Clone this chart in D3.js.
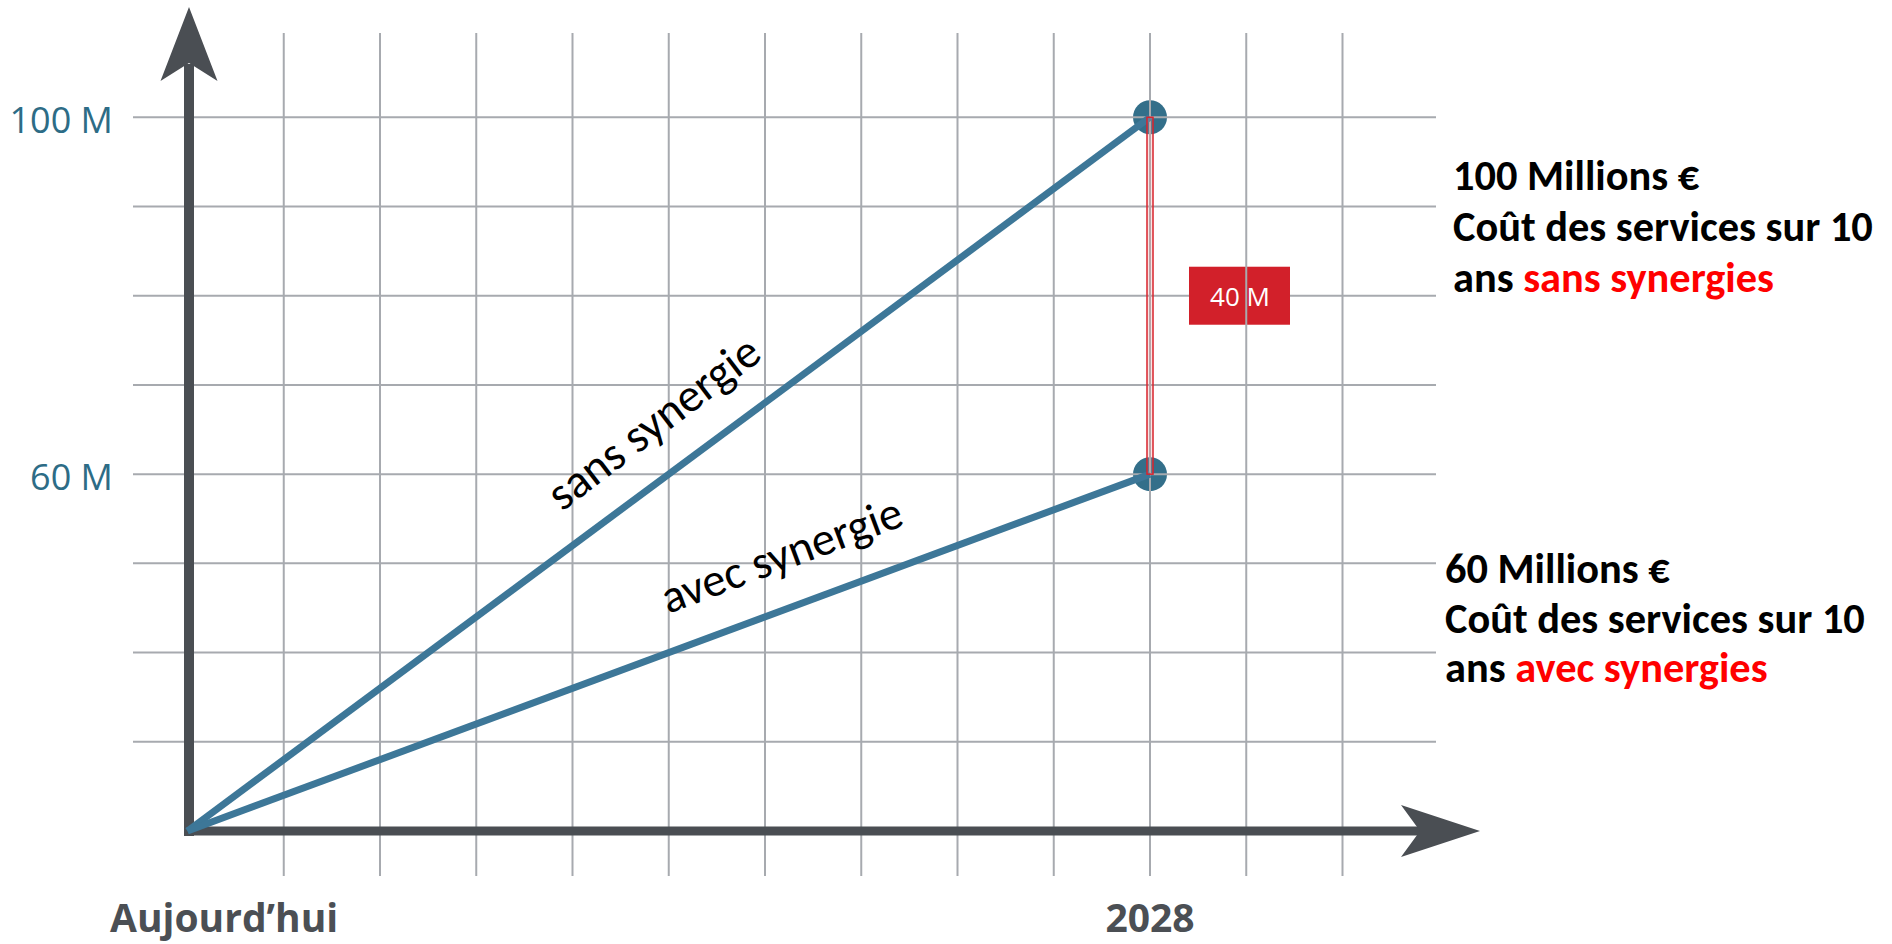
<!DOCTYPE html>
<html>
<head>
<meta charset="utf-8">
<script src="https://cdn.jsdelivr.net/npm/d3@7"></script>
<style>
  html, body { margin: 0; padding: 0; background: #ffffff; }
  svg { display: block; }
</style>
</head>
<body>
<svg id="chart" width="1892" height="944"></svg>
<script>
// ---------------- DATA ----------------
const years = [2018, 2028];
const xTickLabels = ["Aujourd’hui", "2028"];
const sansSynergie = [20, 100];   // cumulative cost (M€), starts at axis floor
const avecSynergie = [20, 60];
const seriesNames = ["sans synergie", "avec synergie"];
const gridYears = [2019, 2020, 2021, 2022, 2023, 2024, 2025, 2026, 2027, 2028, 2029, 2030];
const gridValues = [30, 40, 50, 60, 70, 80, 90, 100];
const yTickValues = [100, 60];
const yTickLabels = ["100 M", "60 M"];
const gapLabel = "40 M";
const noteSans = ["100 Millions €", "Coût des services sur 10", "ans ", "sans synergies"];
const noteAvec = ["60 Millions €", "Coût des services sur 10", "ans ", "avec synergies"];

// ---------------- SETUP ----------------
const svg = d3.select("#chart");
const x = d3.scaleLinear().domain([2018, 2028]).range([187.5, 1150]);
const y = d3.scaleLinear().domain([20, 100]).range([831, 117.3]);

const AXIS = "#4a4e53", GRID = "#a7aaaf", BLUE = "#3d7798", DOT = "#336f8a", RED = "#d2202a";

function fitFont(sel, target) {
  const w = sel.node().getComputedTextLength();
  const fs = parseFloat(sel.attr("font-size"));
  sel.attr("font-size", fs * target / w);
}

// dots (below grid)
const ends = [sansSynergie[1], avecSynergie[1]];
svg.append("g").selectAll("circle").data(ends).join("circle")
  .attr("cx", x(years[1])).attr("cy", d => y(d)).attr("r", 17).attr("fill", DOT);

// horizontal grid
svg.append("g").selectAll("line").data(gridValues).join("line")
  .attr("x1", 133).attr("x2", 1436)
  .attr("y1", d => y(d)).attr("y2", d => y(d))
  .attr("stroke", GRID).attr("stroke-width", 2);

// gap box
const boxCy = y((sansSynergie[1] + avecSynergie[1]) / 2);
svg.append("rect")
  .attr("x", x(years[1]) + 39).attr("y", boxCy - 29)
  .attr("width", 101).attr("height", 58).attr("fill", RED);
svg.append("text")
  .attr("x", x(years[1]) + 90).attr("y", boxCy + 10)
  .attr("text-anchor", "middle")
  .attr("font-family", "'Open Sans', sans-serif").attr("font-size", 26)
  .attr("fill", "#ffffff").text(gapLabel);

// vertical grid
svg.append("g").selectAll("line").data(gridYears).join("line")
  .attr("x1", d => x(d)).attr("x2", d => x(d))
  .attr("y1", 33).attr("y2", 876)
  .attr("stroke", GRID).attr("stroke-width", 2);

// axes with arrows
const x0 = x.range()[0] + 1.5, yb = y.range()[0];
const ax = svg.append("g");
ax.append("line").attr("x1", x0).attr("x2", x0).attr("y1", yb + 5).attr("y2", 64)
  .attr("stroke", AXIS).attr("stroke-width", 10);
ax.append("path").attr("d", `M${x0},7 L${x0 + 28.5},81 L${x0},63 L${x0 - 28.5},81 Z`).attr("fill", AXIS);
ax.append("line").attr("x1", x0 - 5).attr("x2", 1421).attr("y1", yb).attr("y2", yb)
  .attr("stroke", AXIS).attr("stroke-width", 9);
ax.append("path").attr("d", `M1480,${yb} L1401,${yb - 26} L1420,${yb} L1401,${yb + 26} Z`).attr("fill", AXIS);

// y tick labels
svg.append("g").selectAll("text").data(yTickValues).join("text")
  .attr("x", 113).attr("y", d => y(d) + 16)
  .attr("text-anchor", "end")
  .attr("font-family", "'Open Sans', sans-serif").attr("font-size", 36)
  .attr("fill", "#2d6c86")
  .text((d, i) => yTickLabels[i]);

// x labels
svg.append("g").selectAll("text").data(years).join("text")
  .attr("x", (d, i) => i === 0 ? 110 : x(d))
  .attr("y", 932)
  .attr("text-anchor", (d, i) => i === 0 ? "start" : "middle")
  .attr("font-family", "'Open Sans', sans-serif").attr("font-weight", 700).attr("font-size", 39)
  .attr("fill", "#4b4f54")
  .text((d, i) => xTickLabels[i]);

// series lines
const line = d3.line().x(d => x(d[0])).y(d => y(d[1]));
[sansSynergie, avecSynergie].forEach(s => {
  svg.append("path").datum(years.map((yr, i) => [yr, s[i]]))
    .attr("d", line).attr("fill", "none")
    .attr("stroke", BLUE).attr("stroke-width", 7).attr("stroke-linecap", "butt");
});

// red connector
svg.append("rect")
  .attr("x", x(years[1]) - 3).attr("y", y(sansSynergie[1]))
  .attr("width", 6).attr("height", y(avecSynergie[1]) - y(sansSynergie[1]))
  .attr("fill", "rgba(240,150,150,0.25)").attr("stroke", "#d9232d").attr("stroke-width", 1.5);

// rotated series labels
const angS = Math.atan2(y(sansSynergie[0]) - y(sansSynergie[1]), x(years[1]) - x(years[0])) * 180 / Math.PI;
const angA = Math.atan2(y(avecSynergie[0]) - y(avecSynergie[1]), x(years[1]) - x(years[0])) * 180 / Math.PI;
const lblPos = [[562, 512, angS + 0.8], [668, 614, angA + 0.2]];
seriesNames.forEach((n, i) => {
  const t = svg.append("text")
    .attr("transform", `translate(${lblPos[i][0]},${lblPos[i][1]}) rotate(${-lblPos[i][2]})`)
    .attr("font-family", "Carlito, Lato, sans-serif").attr("font-size", 40)
    .attr("fill", "#000").text(n);
  fitFont(t, 254);
});

// right annotations
function note(lines, x0, ys) {
  const g = svg.append("g").attr("font-family", "Carlito, Lato, sans-serif")
    .attr("font-weight", 700).attr("fill", "#000");
  const t1 = g.append("text").attr("x", x0).attr("y", ys[0]).attr("font-size", 40).text(lines[0]);
  const t2 = g.append("text").attr("x", x0).attr("y", ys[1]).attr("font-size", 40).text(lines[1]);
  fitFont(t2, 420);
  const fs = t2.attr("font-size");
  t1.attr("font-size", fs);
  const t3 = g.append("text").attr("x", x0).attr("y", ys[2]).attr("font-size", fs);
  t3.append("tspan").text(lines[2]);
  t3.append("tspan").attr("fill", "#ff0000").text(lines[3]);
}
note(noteSans, 1453, [190, 241, 292]);
note(noteAvec, 1445, [583, 633, 682]);
</script>
</body>
</html>
